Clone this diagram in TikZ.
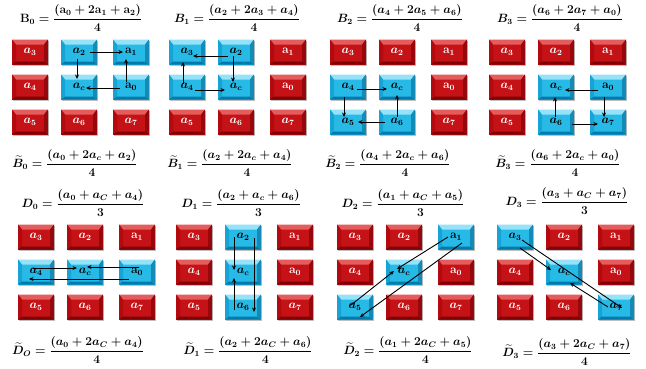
\documentclass[tikz,border=0pt]{standalone}
\usepackage{amsmath}
\usetikzlibrary{arrows.meta,shadows}
\definecolor{rbase}{RGB}{196,18,22}
\definecolor{rtop}{RGB}{228,92,92}
\definecolor{rside}{RGB}{178,10,14}
\definecolor{rbot}{RGB}{128,0,4}
\definecolor{bbase}{RGB}{40,186,230}
\definecolor{btop}{RGB}{150,226,248}
\definecolor{bside}{RGB}{22,164,214}
\definecolor{bbot}{RGB}{0,122,172}
\newcommand\bevelfaces[4]{%
  \fill[#1] (path picture bounding box.north west) -- (path picture bounding box.north east)
    -- ([shift={(-4pt,-5pt)}]path picture bounding box.north east)
    -- ([shift={(4pt,-5pt)}]path picture bounding box.north west) -- cycle;
  \fill[#2] (path picture bounding box.north west) -- ([shift={(4pt,-5pt)}]path picture bounding box.north west)
    -- ([shift={(4pt,3pt)}]path picture bounding box.south west) -- (path picture bounding box.south west) -- cycle;
  \fill[#3] (path picture bounding box.north east) -- ([shift={(-4pt,-5pt)}]path picture bounding box.north east)
    -- ([shift={(-4pt,3pt)}]path picture bounding box.south east) -- (path picture bounding box.south east) -- cycle;
  \fill[#4] (path picture bounding box.south west) -- ([shift={(4pt,3pt)}]path picture bounding box.south west)
    -- ([shift={(-4pt,3pt)}]path picture bounding box.south east) -- (path picture bounding box.south east) -- cycle;
}
\tikzset{
  cellbase/.style={minimum width=36pt, minimum height=25pt, inner sep=0pt,
    font=\fontsize{12}{14}\selectfont\boldmath,
    drop shadow={shadow xshift=0.6pt, shadow yshift=-1.8pt, opacity=0.25, fill=black}},
  redcell/.style={cellbase, fill=rbase, text=white, path picture={\bevelfaces{rtop}{rside}{rside!85!black}{rbot}}},
  bluecell/.style={cellbase, fill=bbase, text=black, path picture={\bevelfaces{btop}{bside}{bside!85!black}{bbot}}},
  arr/.style={-{Stealth[length=4.5pt,width=4pt]}, line width=0.9pt, black},
  eq/.style={font=\fontsize{12}{14}\selectfont\boldmath, inner sep=0pt},
}
\newcommand\mkpanel[4]{%
  \foreach \nm/\dx/\dy/\lab [count=\i from 0] in {a3/0/0/{a_3},a2/49/0/{a_2},a1/101/0/{\mathbf{a}_1},a4/0/35/{a_4},ac/49/35/{a_c},a0/101/35/{\mathbf{a}_0},a5/0/70/{a_5},a6/49/70/{a_6},a7/101/70/{a_7}}{%
    \pgfmathtruncatemacro\isb{{#4}[\i]}%
    \ifnum\isb=1
      \node[bluecell] (#1-\nm) at ({#2+\dx},{#3+\dy}) {$\lab$};
    \else
      \node[redcell] (#1-\nm) at ({#2+\dx},{#3+\dy}) {$\lab$};
    \fi
  }%
}
\newcommand\ar[4]{\draw[arr] ([shift={#2}]#1.center) -- ([shift={#4}]#3.center);}
\begin{document}
\begin{tikzpicture}[x=1pt,y=-1pt]
\useasboundingbox[fill=white] (0,0) rectangle (646,368);
% ---------- top panels
\mkpanel{B0}{30}{52}{0,1,1,0,1,1,0,0,0}
\mkpanel{B1}{187}{52}{1,1,0,1,1,0,0,0,0}
\mkpanel{B2}{348}{52}{0,0,0,1,1,0,1,1,0}
\mkpanel{B3}{507}{52}{0,0,0,0,1,1,0,1,1}
% ---------- bottom panels
\mkpanel{D0}{36}{237}{0,0,0,1,1,1,0,0,0}
\mkpanel{D1}{194}{237}{0,1,0,0,1,0,0,1,0}
\mkpanel{D2}{355}{237}{0,0,1,0,1,0,1,0,0}
\mkpanel{D3}{515}{237}{1,0,0,0,1,0,0,0,1}
% ---------- equations
\node[eq] (eB0) at (81,18) {$\mathbf{B}_0=\dfrac{(\mathbf{a}_0+2\mathbf{a}_1+\mathbf{a}_2)}{4}$};
\node[eq] (eB1) at (237,18) {$B_1=\dfrac{(a_2+2a_3+a_4)}{4}$};
\node[eq] (eB2) at (400,18) {$B_2=\dfrac{(a_4+2a_5+a_6)}{4}$};
\node[eq] (eB3) at (560,18) {$B_3=\dfrac{(a_6+2a_7+a_0)}{4}$};
\node[eq] (tB0) at (75,163) {$\widetilde{B}_0=\dfrac{(a_0+2a_c+a_2)}{4}$};
\node[eq] (tB1) at (230,163) {$\widetilde{B}_1=\dfrac{(a_2+2a_c+a_4)}{4}$};
\node[eq] (tB2) at (388,163) {$\widetilde{B}_2=\dfrac{(a_4+2a_c+a_6)}{4}$};
\node[eq] (tB3) at (558,163) {$\widetilde{B}_3=\dfrac{(a_6+2a_c+a_0)}{4}$};
\node[eq] (eD0) at (83,203) {$D_0=\dfrac{(a_0+a_C+a_4)}{3}$};
\node[eq] (eD1) at (241,203) {$D_1=\dfrac{(a_2+a_c+a_6)}{3}$};
\node[eq] (eD2) at (403,203) {$D_2=\dfrac{(a_1+a_C+a_5)}{3}$};
\node[eq] (eD3) at (567,201) {$D_3=\dfrac{(a_3+a_C+a_7)}{3}$};
\node[eq] (tD0) at (78,350) {$\widetilde{D}_O=\dfrac{(a_0+2a_C+a_4)}{4}$};
\node[eq] (tD1) at (248,350) {$\widetilde{D}_1=\dfrac{(a_2+2a_C+a_6)}{4}$};
\node[eq] (tD2) at (408,350) {$\widetilde{D}_2=\dfrac{(a_1+2a_C+a_5)}{4}$};
\node[eq] (tD3) at (567,352) {$\widetilde{D}_3=\dfrac{(a_3+2a_C+a_7)}{4}$};
% ---------- arrows B0
\ar{B0-a2}{(11,0)}{B0-a1}{(-8,0)}
\ar{B0-a2}{(-2,7)}{B0-ac}{(-2,-8)}
\ar{B0-a0}{(-5,-5)}{B0-a1}{(-5,7)}
\ar{B0-a0}{(-11,1)}{B0-ac}{(7,1)}
% B1
\ar{B1-a2}{(-8,4)}{B1-a3}{(6,4)}
\ar{B1-a2}{(-3,4)}{B1-ac}{(-3,-5)}
\ar{B1-a4}{(-4,-3)}{B1-a3}{(-4,10)}
\ar{B1-a4}{(8,3)}{B1-ac}{(-11,3)}
% B2
\ar{B2-a4}{(9,2)}{B2-ac}{(-10,2)}
\ar{B2-a4}{(-4,10)}{B2-a5}{(-4,-5)}
\ar{B2-a6}{(0,-5)}{B2-ac}{(0,8)}
\ar{B2-a6}{(-12,0)}{B2-a5}{(10,0)}
% B3
\ar{B3-a0}{(-10,3)}{B3-ac}{(9,3)}
\ar{B3-a0}{(-4,10)}{B3-a7}{(-4,-5)}
\ar{B3-a6}{(-1,-5)}{B3-ac}{(-1,10)}
\ar{B3-a6}{(16,2)}{B3-a7}{(-10,2)}
% D0
\ar{D0-a4}{(-3,-4)}{D0-ac}{(-8,-4)}
\ar{D0-a0}{(2,-5)}{D0-ac}{(2,-5)}
\ar{D0-a0}{(-8,7)}{D0-a4}{(-7,7)}
% D1
\ar{D1-a2}{(-9,0)}{D1-ac}{(-9,-2)}
\ar{D1-a6}{(-9,3)}{D1-ac}{(-9,6)}
\ar{D1-a2}{(11,1)}{D1-a6}{(11,5)}
% D2
\ar{D2-a1}{(-8,0)}{D2-ac}{(-7,-3)}
\ar{D2-a5}{(-4,-2)}{D2-ac}{(-10,-1)}
\ar{D2-a1}{(6,6)}{D2-a5}{(5,10)}
% D3
\ar{D3-a3}{(5,11)}{D3-ac}{(-13,-2)}
\ar{D3-a7}{(-8,0)}{D3-ac}{(6,11)}
\ar{D3-a3}{(7,3)}{D3-a7}{(6,1)}
\end{tikzpicture}
\end{document}
